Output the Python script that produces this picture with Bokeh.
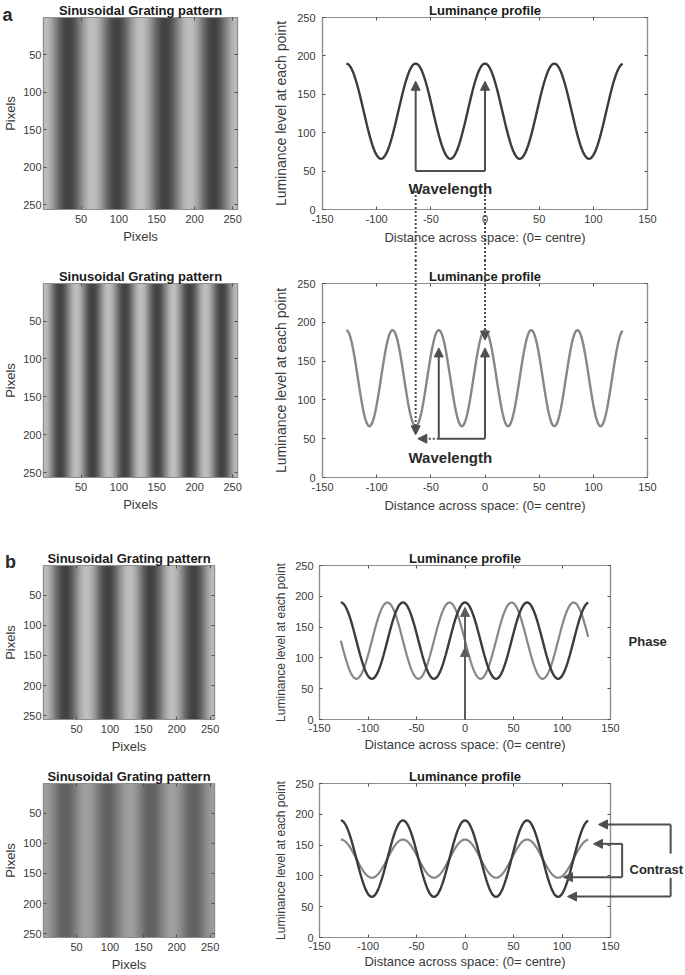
import numpy as np
from bokeh.plotting import figure
from bokeh.layouts import column, row
from bokeh.models import (Range1d, LinearAxis, FixedTicker, Arrow, NormalHead,
                          LinearColorMapper)
from bokeh.core.properties import value
from bokeh.embed import file_html
from bokeh.resources import INLINE

# ---------------- values ----------------
pixel_positions = np.arange(-128, 128)   # distance across space, 0 = centre
mean_luminance = 128                     # grey level midway between peaks (~190) and troughs (~66)
amplitude_full = 62                      # full-contrast profiles
amplitude_reduced = 31                   # reduced-contrast profile (~159 / ~97)
wavelength_long = 64                     # 4 cycles across the 256-pixel grating
wavelength_short = 256 / 6               # 6 cycles across the grating
phase_shift_cycles = 0.25                # shifted profile in panel b (quarter cycle)

lum_x_ticks = [-150, -100, -50, 0, 50, 100, 150]
lum_y_ticks = [0, 50, 100, 150, 200, 250]
pixel_ticks = [50, 100, 150, 200, 250]


def grating_profile(wavelength, amplitude, shift=0.0):
    return mean_luminance + amplitude * np.cos(2 * np.pi * (pixel_positions / wavelength + shift))


profile_a_top = grating_profile(wavelength_long, amplitude_full)
profile_a_bottom = grating_profile(wavelength_short, amplitude_full)
profile_b_shifted = grating_profile(wavelength_long, amplitude_full, phase_shift_cycles)
profile_b_low = grating_profile(wavelength_long, amplitude_reduced)

# ---------------- styles ----------------
FONT = "Liberation Sans"
BOX = "#8e8e8e"
TICK = "#505050"
TXT = "#3a3a3a"
TITLE = "#1a1a1a"
DARK = "#3c3c3c"
LIGHT = "#878787"
ARROW = "#4f4f4f"

gray_palette = ["#%02x%02x%02x" % (v, v, v) for v in range(256)]
gray_mapper = LinearColorMapper(palette=gray_palette, low=0, high=255)


def base_fig(w, h, l, r, t, b, xr, yr, xticks, yticks, title, xlabel, ylabel,
             ylabel_size, ytick_stand, ylab_stand, xtick_stand, xlab_stand):
    p = figure(width=w, height=h, x_range=xr, y_range=yr, output_backend="svg",
               toolbar_location=None, min_border_left=l, min_border_right=r,
               min_border_top=t, min_border_bottom=b)
    p.grid.visible = False
    p.outline_line_color = BOX
    p.outline_line_width = 1.2
    p.title.text = title
    p.title.align = "center"
    p.title.text_font = FONT
    p.title.text_font_size = "13px"
    p.title.text_font_style = "bold"
    p.title.text_color = TITLE
    p.title.standoff = 0
    xa, ya = p.xaxis[0], p.yaxis[0]
    xa.ticker = FixedTicker(ticks=xticks)
    ya.ticker = FixedTicker(ticks=yticks)
    xa.axis_label = xlabel
    ya.axis_label = ylabel
    for ax, ticks, tst, lst, lsz in ((xa, xticks, xtick_stand, xlab_stand, "13px"),
                                     (ya, yticks, ytick_stand, ylab_stand, ylabel_size)):
        ax.axis_line_color = BOX
        ax.axis_line_width = 1.2
        ax.major_tick_in = 3
        ax.major_tick_out = 0
        ax.major_tick_line_color = TICK
        ax.minor_tick_line_color = None
        ax.major_label_standoff = tst
        ax.major_label_text_font = FONT
        ax.major_label_text_font_size = "11px"
        ax.major_label_text_color = TXT
        ax.major_label_overrides = {t: str(t) for t in ticks if t < 0}
        ax.axis_label_standoff = lst
        ax.axis_label_text_font = FONT
        ax.axis_label_text_font_size = lsz
        ax.axis_label_text_font_style = "normal"
        ax.axis_label_text_color = TXT
    for side, ticks in (("above", xticks), ("right", yticks)):
        ax = LinearAxis(ticker=FixedTicker(ticks=[], minor_ticks=ticks),
                        axis_line_color=BOX, axis_line_width=1.2,
                        minor_tick_in=3, minor_tick_out=0, minor_tick_line_color=TICK,
                        major_tick_line_color=None, major_label_standoff=0)
        p.add_layout(ax, side)
    return p


def grating_fig(w, h, l, r, t, b, profile):
    p = base_fig(w, h, l, r, t, b, Range1d(0.5, 256.5), Range1d(256.5, 0.5),
                 pixel_ticks, pixel_ticks, "Sinusoidal Grating pattern", "Pixels", "Pixels",
                 "13px", 2, 2, 5, 3)
    img = np.tile(profile, (256, 1))
    p.image(image=[img], x=128.5, y=128.5, dw=256, dh=256, anchor="center",
            color_mapper=gray_mapper)
    return p


def lum_fig(w, h, l, r, t, b, ylabel_size, ytick_stand, ylab_stand, xtick_stand, xlab_stand):
    return base_fig(w, h, l, r, t, b, Range1d(-150, 150), Range1d(0, 250),
                    lum_x_ticks, lum_y_ticks, "Luminance profile",
                    "Distance across space: (0= centre)", "Luminance level at each point",
                    ylabel_size, ytick_stand, ylab_stand, xtick_stand, xlab_stand)


def arrow(p, x0, y0, x1, y1, sx, sy, dash="solid", head=True, color=ARROW):
    xe, ye = x1, y1
    if head:
        dx, dy = (x1 - x0) * sx, (y1 - y0) * sy
        L = float(np.hypot(dx, dy))
        f = max(0.0, (L - 5) / L)
        xe, ye = x0 + (x1 - x0) * f, y0 + (y1 - y0) * f
    p.segment(x0=[x0], y0=[y0], x1=[xe], y1=[ye], line_color=color, line_width=2,
              line_dash=dash, level="overlay")
    if head:
        p.add_layout(Arrow(end=NormalHead(size=9, fill_color=color, line_color=color,
                                          line_width=1),
                           x_start=x0, y_start=y0, x_end=x1, y_end=y1, line_color=None))


def text(p, x, y, s, size, align="left", color="#2a2a2a"):
    p.text(x=[x], y=[y], text=[s], text_font=value(FONT), text_font_size=value(size),
           text_font_style="bold", text_color=color, text_align=align,
           text_baseline="alphabetic", level="overlay")


LEFT_W, RIGHT_W = 270, 415

# ---------------- panel a, top ----------------
g_a1 = grating_fig(LEFT_W, 260, 43, 33, 16, 51, profile_a_top)
l_a1 = lum_fig(RIGHT_W, 260, 52, 38, 16, 51, "14px", 7, 5, 5, 4)
l_a1.line(pixel_positions, profile_a_top, line_color=DARK, line_width=2.4)
sxa, sya = 325 / 300, 193 / 250
wl_base, wl_tip = 50, 167
for xv in (-wavelength_long, 0):
    arrow(l_a1, xv, wl_base, xv, wl_tip, sxa, sya)
arrow(l_a1, -wavelength_long, wl_base, 0, wl_base, sxa, sya, head=False)
for xv in (-wavelength_long, 0):
    arrow(l_a1, xv, 24, xv, -300, sxa, sya, dash="2 2", head=False)
text(l_a1, -32, 27, "Wavelength", "15px", align="center")
text(g_a1, -53.6, -2.2, "a", "18px")

# ---------------- panel a, bottom ----------------
g_a2 = grating_fig(LEFT_W, 270, 43, 33, 23, 53, profile_a_bottom)
l_a2 = lum_fig(RIGHT_W, 270, 52, 38, 23, 53, "14px", 7, 5, 5, 4)
l_a2.line(pixel_positions, profile_a_bottom, color=LIGHT, line_width=2.4)
for xv in (-wavelength_short, 0):
    arrow(l_a2, xv, wl_base, xv, wl_tip, sxa, sya)
arrow(l_a2, -wavelength_short, wl_base, 0, wl_base, sxa, sya, head=False)
arrow(l_a2, -wavelength_short, wl_base, -62, wl_base, sxa, sya, dash="2 2")
for xv, tip in ((-wavelength_long, 55), (0, 177)):
    arrow(l_a2, xv, 600, xv, tip, sxa, sya, dash="2 2")
text(l_a2, -32, 26, "Wavelength", "15px", align="center")

# ---------------- panel b, top (phase) ----------------
g_b1 = grating_fig(LEFT_W, 226, 41, 56, 35, 34, profile_a_top)
l_b1 = lum_fig(RIGHT_W, 226, 49, 75, 35, 34, "12px", 6, 4, 4, 2)
l_b1.line(pixel_positions, profile_b_shifted, color=LIGHT, line_width=2.2)
l_b1.line(pixel_positions, profile_a_top, color=DARK, line_width=2.4)
sxb, syb = 291 / 300, 157 / 250
arrow(l_b1, 0, 0, 0, 182, sxb, syb, color="#5c5c5c")
arrow(l_b1, 0, 0, 0, 117, sxb, syb, color="#5c5c5c")
text(l_b1, 168.6, 127, "Phase", "13px")
text(g_b1, -57.2, -6.0, "b", "18px")

# ---------------- panel b, bottom (contrast) ----------------
g_b2 = grating_fig(LEFT_W, 218, 41, 56, 27, 34, profile_b_low)
l_b2 = lum_fig(RIGHT_W, 218, 49, 75, 27, 34, "12px", 6, 4, 4, 1)
l_b2.line(pixel_positions, profile_b_low, color=LIGHT, line_width=2.2)
l_b2.line(pixel_positions, profile_a_top, color=DARK, line_width=2.4)
outer_x, inner_x = 212, 162
arrow(l_b2, outer_x, 183.5, 137.6, 183.5, sxb, syb)
arrow(l_b2, outer_x, 66.5, 105.7, 66.5, sxb, syb)
arrow(l_b2, outer_x, 183.5, outer_x, 136, sxb, syb, head=False)
arrow(l_b2, outer_x, 96.5, outer_x, 66.5, sxb, syb, head=False)
arrow(l_b2, inner_x, 152, 132.5, 152, sxb, syb)
arrow(l_b2, inner_x, 98, 101.5, 98, sxb, syb)
arrow(l_b2, inner_x, 152, inner_x, 98, sxb, syb, head=False)
text(l_b2, 169.6, 110.8, "Contrast", "13px")

layout = column(row(g_a1, l_a1), row(g_a2, l_a2), row(g_b1, l_b1), row(g_b2, l_b2))
open("out.html", "w").write(file_html(layout, INLINE))
